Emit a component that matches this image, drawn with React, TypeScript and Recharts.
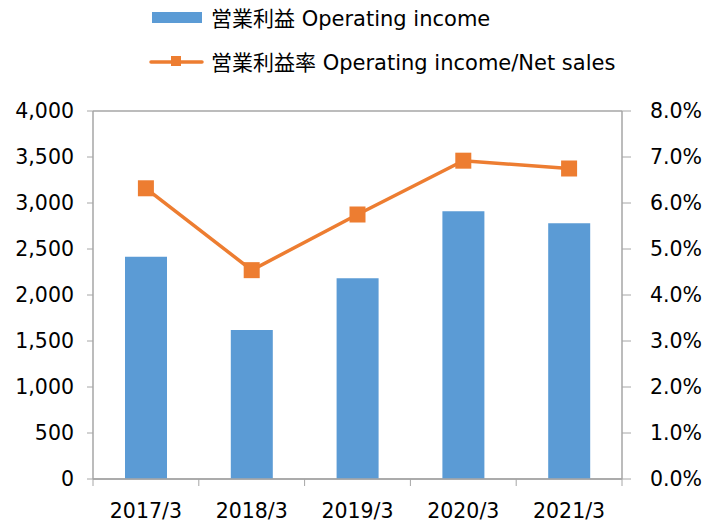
import React from "react";
import {
  Bar,
  CartesianGrid,
  ComposedChart,
  Legend,
  Line,
  XAxis,
  YAxis,
} from "recharts";

const categories = ["2017/3", "2018/3", "2019/3", "2020/3", "2021/3"];
const operatingIncome = [2416, 1620, 2182, 2910, 2780];
const operatingMargin = [6.32, 4.54, 5.75, 6.92, 6.75];
const leftTicks = [0, 500, 1000, 1500, 2000, 2500, 3000, 3500, 4000];
const rightTicks = [0, 1, 2, 3, 4, 5, 6, 7, 8];

const incomeLabel = "営業利益 Operating income";
const marginLabel = "営業利益率 Operating income/Net sales";

const data = categories.map((name, i) => ({
  name,
  income: operatingIncome[i],
  margin: operatingMargin[i],
}));

const FONT = "'DejaVu Sans', 'Noto Sans CJK JP', sans-serif";
const BLUE = "#5B9BD5";
const ORANGE = "#ED7D31";
const GRID = "#A6A6A6";

const SquareDot = (props: any) => {
  const { cx, cy } = props;
  if (cx == null || cy == null) return null;
  return <rect x={cx - 8} y={cy - 8} width={16} height={16} fill={ORANGE} />;
};

const CategoryTick = (props: any) => {
  const { x, y, payload, index, width } = props;
  const half = width / (categories.length * 2);
  return (
    <g>
      <line x1={x - half} y1={y} x2={x - half} y2={y + 7} stroke={GRID} />
      {index === categories.length - 1 && (
        <line x1={x + half} y1={y} x2={x + half} y2={y + 7} stroke={GRID} />
      )}
      <text
        x={x}
        y={y + 39}
        textAnchor="middle"
        fontSize={20.5}
        fontFamily={FONT}
        fill="#000"
      >
        {payload.value}
      </text>
    </g>
  );
};

const renderLegend = () => (
  <svg width={707} height={80} style={{ display: "block" }}>
    <rect x={152} y={12} width={50} height={11} fill={BLUE} />
    <text x={211} y={26} fontSize={21} fontFamily={FONT} fill="#000">
      {incomeLabel}
    </text>
    <line
      x1={151}
      y1={62}
      x2={202}
      y2={62}
      stroke={ORANGE}
      strokeWidth={3.5}
      strokeLinecap="round"
    />
    <rect x={171} y={56} width={10} height={10} fill={ORANGE} />
    <text x={211} y={70} fontSize={21} fontFamily={FONT} fill="#000">
      {marginLabel}
    </text>
  </svg>
);

export default function App() {
  return (
    <div>
      <style>{`body { margin: 0; }`}</style>
      <ComposedChart
        width={707}
        height={523}
        data={data}
        margin={{ top: 111, right: 0, bottom: 0, left: 0 }}
      >
        <CartesianGrid vertical={false} stroke={GRID} strokeWidth={1.5} />
        <XAxis
          dataKey="name"
          height={44}
          axisLine={{ stroke: GRID, strokeWidth: 1.5 }}
          tickLine={false}
          tickSize={0}
          tickMargin={0}
          tick={<CategoryTick />}
          interval={0}
        />
        <YAxis
          yAxisId="left"
          width={93}
          domain={[0, 4000]}
          ticks={leftTicks}
          tickFormatter={(v: number) => v.toLocaleString("en-US")}
          axisLine={{ stroke: GRID, strokeWidth: 1.5 }}
          tickLine={{ stroke: GRID }}
          tickSize={6}
          tickMargin={13}
          tick={{ fontSize: 20.5, fontFamily: FONT, fill: "#000" }}
        />
        <YAxis
          yAxisId="right"
          orientation="right"
          width={85}
          domain={[0, 8]}
          ticks={rightTicks}
          tickFormatter={(v: number) => `${v.toFixed(1)}%`}
          axisLine={{ stroke: GRID, strokeWidth: 1.5 }}
          tickLine={{ stroke: GRID }}
          tickSize={9}
          tickMargin={19}
          tick={{ fontSize: 20.5, fontFamily: FONT, fill: "#000", textAnchor: "start" }}
        />
        <Legend
          layout="horizontal"
          verticalAlign="middle"
          align="center"
          content={renderLegend}
          wrapperStyle={{ top: 0, left: 0, width: 707, height: 80 }}
        />
        <Bar
          yAxisId="left"
          dataKey="income"
          name={incomeLabel}
          fill={BLUE}
          barSize={42}
          isAnimationActive={false}
        />
        <Line
          yAxisId="right"
          dataKey="margin"
          name={marginLabel}
          stroke={ORANGE}
          strokeWidth={3.5}
          dot={<SquareDot />}
          activeDot={false}
          isAnimationActive={false}
        />
      </ComposedChart>
    </div>
  );
}
